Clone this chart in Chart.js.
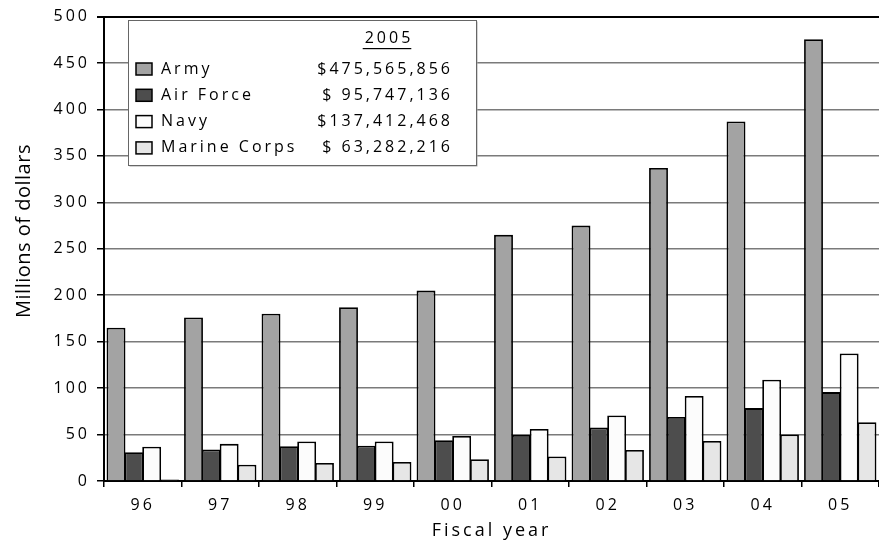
<!DOCTYPE html>
<html>
<head>
<meta charset="utf-8">
<script src="https://cdn.jsdelivr.net/npm/chart.js@4.4.1/dist/chart.umd.min.js"></script>
<style>
  html, body { margin: 0; padding: 0; background: #fff; }
  #wrap { width: 879px; height: 548px; }
</style>
</head>
<body>
<div id="wrap"><canvas id="chart"></canvas></div>
<script>
// ==========================================
// Data
// ==========================================

const years = ['96', '97', '98', '99', '00', '01', '02', '03', '04', '05'];
const army = [165, 176, 180, 187, 205, 265, 275, 337, 387, 475.6];
const airForce = [31, 34, 37.5, 38, 44, 49.5, 57.5, 69, 78.5, 95.7];
const navy = [37, 40, 42.5, 42.5, 48.5, 56, 70.5, 91.5, 109, 137.4];
const marines = [1.5, 17.5, 19.5, 20.5, 23.5, 26.5, 33.5, 43, 50, 63.3];

const seriesNames = ['Army', 'Air Force', 'Navy', 'Marine Corps'];
const seriesColors = ['#a3a3a3', '#4d4d4d', '#fcfcfc', '#e6e6e6'];
const values2005 = ['$475,565,856', '$ 95,747,136', '$137,412,468', '$ 63,282,216'];
const legendYear = '2005';

const yTicks = [0, 50, 100, 150, 200, 250, 300, 350, 400, 450, 500];

const FONT = '"Open Sans", "DejaVu Sans", sans-serif';

// ==========================================
// Plugins
// ==========================================

// spaced-out lettering like the original typeface
const spacingPlugin = {
    id: 'spacing',
    beforeUpdate(chart) { chart.ctx.letterSpacing = '3px'; },
    beforeDraw(chart) { chart.ctx.letterSpacing = '3px'; }
};

const extrasPlugin = {
    id: 'extras',
    afterDraw(chart) {
        const ctx = chart.ctx;

        // y axis title
        ctx.save();
        ctx.letterSpacing = '0.5px';
        ctx.fillStyle = '#000';
        ctx.font = '20px ' + FONT;
        ctx.textAlign = 'center';
        ctx.textBaseline = 'middle';
        ctx.translate(24, 231);
        ctx.rotate(-Math.PI / 2);
        ctx.fillText('Millions of dollars', 0, 0);
        ctx.restore();

        // legend box
        const bx = 128, by = 20, bw = 348, bh = 145;
        ctx.save();
        ctx.fillStyle = '#aaa';
        ctx.fillRect(bx + 1.5, by + 1.5, bw, bh);
        ctx.fillStyle = '#fff';
        ctx.fillRect(bx, by, bw, bh);
        ctx.strokeStyle = '#666';
        ctx.lineWidth = 1;
        ctx.strokeRect(bx + 0.5, by + 0.5, bw, bh);

        ctx.letterSpacing = '3px';
        ctx.fillStyle = '#000';
        ctx.font = '16px ' + FONT;
        ctx.textBaseline = 'middle';

        // year header, underlined
        ctx.textAlign = 'center';
        ctx.fillText(legendYear, 389, 38);
        const w = ctx.measureText(legendYear).width;
        ctx.fillRect(389 - w / 2 - 2, 48, w, 1.2);

        for (let i = 0; i < seriesNames.length; i++) {
            const y = 69 + i * 26.3;
            ctx.fillStyle = seriesColors[i];
            ctx.fillRect(136, y - 6, 16, 12);
            ctx.strokeStyle = '#000';
            ctx.lineWidth = 1.5;
            ctx.strokeRect(136, y - 6, 16, 12);

            ctx.fillStyle = '#000';
            ctx.textAlign = 'left';
            ctx.fillText(seriesNames[i], 161, y);
            ctx.textAlign = 'right';
            ctx.fillText(values2005[i], 453, y);
        }
        ctx.restore();
    }
};

// ==========================================
// Chart
// ==========================================

function makeDataset(label, data, color) {
    return {
        label: label,
        data: data,
        backgroundColor: color,
        borderColor: '#000',
        borderWidth: 1.8,
        borderSkipped: 'bottom',
        barPercentage: 1.06,
        categoryPercentage: 0.92
    };
}

function createChart() {
    const ctx = document.getElementById('chart').getContext('2d');

    new Chart(ctx, {
        type: 'bar',
        data: {
            labels: years,
            datasets: [
                makeDataset(seriesNames[0], army, seriesColors[0]),
                makeDataset(seriesNames[1], airForce, seriesColors[1]),
                makeDataset(seriesNames[2], navy, seriesColors[2]),
                makeDataset(seriesNames[3], marines, seriesColors[3])
            ]
        },
        options: {
            responsive: true,
            maintainAspectRatio: false,
            animation: false,
            layout: { padding: { top: 16, right: 0, bottom: 3, left: 0 } },
            scales: {
                x: {
                    afterFit(scale) { scale.height = 64; },
                    grid: {
                        offset: true,
                        drawOnChartArea: false,
                        drawTicks: true,
                        tickLength: 6,
                        tickColor: '#000',
                        lineWidth: 1.5
                    },
                    border: { color: '#000', width: 2 },
                    ticks: {
                        color: '#000',
                        font: { family: FONT, size: 16 },
                        padding: 9,
                        maxRotation: 0
                    },
                    title: {
                        display: true,
                        text: 'Fiscal year',
                        color: '#000',
                        font: { family: FONT, size: 18 },
                        padding: { top: 5, bottom: 3 }
                    }
                },
                y: {
                    min: 0,
                    max: 500,
                    afterBuildTicks(scale) {
                        scale.ticks = yTicks.map(function (v) { return { value: v }; });
                    },
                    afterFit(scale) { scale.width = 104; },
                    grid: {
                        color: function (c) { return c.tick.value === 500 ? '#000' : '#7a7a7a'; },
                        lineWidth: function (c) { return c.tick.value === 500 ? 2 : 1.5; },
                        tickLength: 7,
                        tickColor: '#000'
                    },
                    border: { color: '#000', width: 2 },
                    ticks: {
                        color: '#000',
                        font: { family: FONT, size: 16 },
                        padding: 7
                    },
                    title: { display: false }
                }
            },
            plugins: {
                legend: { display: false },
                tooltip: { enabled: false }
            }
        },
        plugins: [spacingPlugin, extrasPlugin]
    });
}

createChart();
</script>
</body>
</html>
